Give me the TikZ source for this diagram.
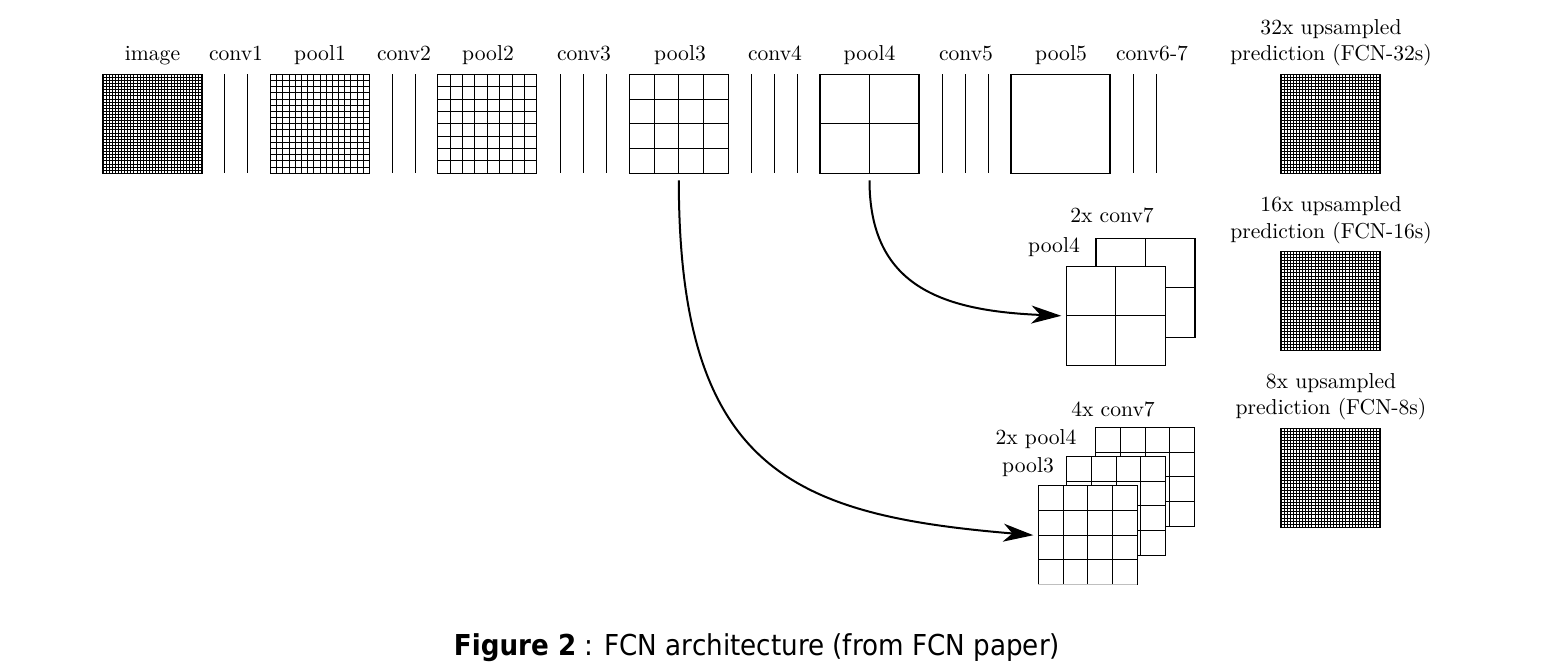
\documentclass[tikz,border=0pt]{standalone}
\usepackage{fontspec}
\newfontfamily\capfont[FakeStretch=0.91]{DejaVu Sans}
\usetikzlibrary{arrows.meta}
\tikzset{
  fmap/.style={draw, fill=white, line width=0.65pt, minimum width=49.5pt, minimum height=49.5pt,
    inner sep=0pt, outer sep=0pt, anchor=north west},
  gridln/.style={line width=0.5pt},
  convln/.style={line width=0.65pt},
  lbl/.style={anchor=base, inner sep=0pt, font=\fontsize{10.8}{13}\selectfont},
  skiparrow/.style={line width=1pt, -{Stealth[length=15pt,width=9pt,inset=4.5pt]}}
}
\newcommand\fmapbox[4]{% name, left x, top y, cells per side
  \node[fmap] (#1) at (#2,#3) {};
  \ifnum#4>1
    \pgfmathsetmacro\fcnstep{49.5/#4}
    \pgfmathtruncatemacro\fcnlast{#4-1}
    \foreach \k in {1,...,\fcnlast}{
      \draw[gridln] ([xshift=\k*\fcnstep pt]#1.north west) -- ([xshift=\k*\fcnstep pt]#1.south west);
      \draw[gridln] ([yshift=-\k*\fcnstep pt]#1.north west) -- ([yshift=-\k*\fcnstep pt]#1.north east);
    }
  \fi}
\begin{document}
\begin{tikzpicture}[x=0.5pt,y=-0.5pt]
\useasboundingbox (0,0) rectangle (1556,672);

% top row of feature maps
\fmapbox{image}{103}{74.3}{32}
\fmapbox{pool1}{270.5}{74.3}{16}
\fmapbox{pool2}{437.8}{74.3}{8}
\fmapbox{pool3}{629.3}{74.3}{4}
\fmapbox{pool4}{820}{74.3}{2}
\fmapbox{pool5}{1011}{74.3}{1}

% conv layers
\foreach \xx in {224.5,247.5, 392.3,415.3, 560.7,583.5,606.5, 751.7,774.7,797.7, 942.3,965.3,988.3, 1133.7,1156.5}
  \draw[convln] (\xx,74.3) -- (\xx,173.3);

% top labels
\node[lbl] (limage) at (152.5,61) {image};
\node[lbl] (lconv1) at (236,61) {conv1};
\node[lbl] (lpool1) at (320,61) {pool1};
\node[lbl] (lconv2) at (404,61) {conv2};
\node[lbl] (lpool2) at (488,61) {pool2};
\node[lbl] (lconv3) at (584,61) {conv3};
\node[lbl] (lpool3) at (680,61) {pool3};
\node[lbl] (lconv4) at (775,61) {conv4};
\node[lbl] (lpool4) at (869.5,61) {pool4};
\node[lbl] (lconv5) at (966,61) {conv5};
\node[lbl] (lpool5) at (1061,61) {pool5};
\node[lbl] (lconv67) at (1152,61) {conv6-7};

% predictions
\fmapbox{pred32}{1281}{74.3}{32}
\fmapbox{pred16}{1281}{251.3}{32}
\fmapbox{pred8}{1281}{428.3}{32}
\node[lbl] (l32a) at (1331,35) {32x upsampled};
\node[lbl] (l32b) at (1331,61) {prediction (FCN-32s)};
\node[lbl] (l16a) at (1331,212) {16x upsampled};
\node[lbl] (l16b) at (1331,239) {prediction (FCN-16s)};
\node[lbl] (l8a) at (1331,389) {8x upsampled};
\node[lbl] (l8b) at (1331,415) {prediction (FCN-8s)};

% FCN-16s stack
\fmapbox{c7a}{1096}{238.3}{2}
\fmapbox{p4a}{1066.3}{266.3}{2}
\node[lbl] (lc7a) at (1112,222.7) {2x conv7};
\node[lbl] (lp4a) at (1054,253) {pool4};

% FCN-8s stack
\fmapbox{c7b}{1095.5}{427.3}{4}
\fmapbox{p4b}{1066.7}{456.5}{4}
\fmapbox{p3b}{1038.3}{485.7}{4}
\draw[line width=0.65pt, black!25] (p3b.south west) -- (p3b.south east);
\node[lbl] (lc7b) at (1113,417) {4x conv7};
\node[lbl] (lp4b) at (1036,445) {2x pool4};
\node[lbl] (lp3b) at (1028,473) {pool3};

% skip connections
\draw[skiparrow] ([yshift=-3.5pt]pool4.south) .. controls +(0,105) and +(-121,-5) .. ([xshift=-2.5pt]p4a.west);
\draw[skiparrow] ([yshift=-3.5pt]pool3.south) .. controls +(0,290) and +(-240,-20) .. ([xshift=-2.5pt]p3b.west);

% caption
\node[anchor=base, inner sep=0pt, font=\capfont\fontsize{14.4}{17}\selectfont] (caption) at (757,655)
  {\textbf{Figure 2} : FCN architecture (from FCN paper)};
\end{tikzpicture}
\end{document}
